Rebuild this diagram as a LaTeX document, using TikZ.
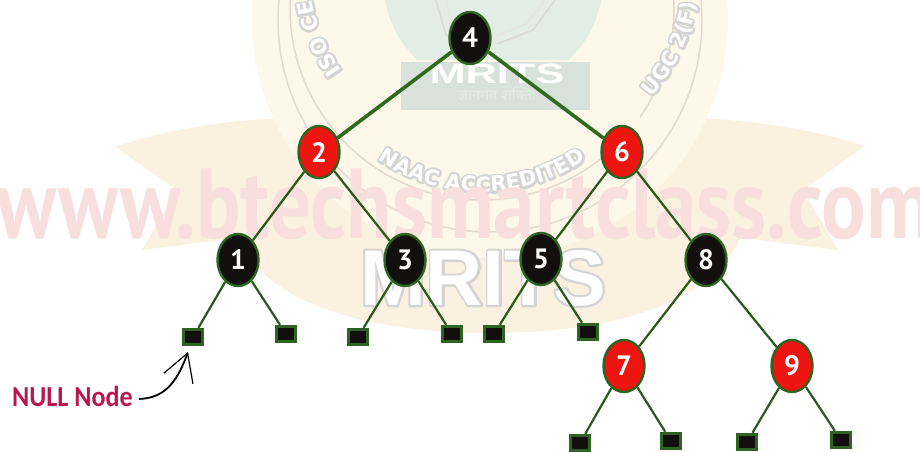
\documentclass[tikz,border=0pt]{standalone}
\usepackage{fontspec}
\usepackage{graphicx}
\setmainfont{PT Sans}
\newfontfamily\markfont{Liberation Sans}
\newfontfamily\stampfont{DejaVu Sans}
\newfontfamily\notefont{Carlito}
\newfontfamily\mottofont[Script=Devanagari]{Noto Sans}
\usetikzlibrary{positioning,arrows.meta,shapes.geometric,decorations.text}
\definecolor{treegreen}{HTML}{2F6A1E}
\definecolor{noderim}{HTML}{2E6422}
\definecolor{nodered}{HTML}{EE1410}
\definecolor{nodeblack}{HTML}{120F0E}
\definecolor{notered}{HTML}{B9184F}
\definecolor{ribbon}{HTML}{FBF1E1}
\definecolor{sealfill}{HTML}{FDF8E9}
\definecolor{sealgreen}{HTML}{E2EDE4}
\definecolor{urlpink}{HTML}{F8DEDC}
\newcommand{\rimon}{\special{pdf:code 0.83 G 4.4 w 1 j 1 Tr}}
\newcommand{\rimoff}{\special{pdf:code 0 Tr}}

\begin{document}
\begin{tikzpicture}[x=1pt,y=1pt,
  rb/.style={draw=noderim,line width=2.4pt,ellipse,fill=nodered,minimum width=41pt,minimum height=52pt,inner sep=0pt,text=white,font=\fontsize{28}{28}\selectfont\bfseries},
  bk/.style={rb,fill=nodeblack},
  nil/.style={draw=noderim,line width=3pt,fill=nodeblack,minimum width=19pt,minimum height=15.5pt,inner sep=0pt},
  big/.style={treegreen,line width=3.6pt},
  thin/.style={treegreen!85!black,line width=2.2pt},
  seal/.style 2 args={decoration={text along path,text align=center,text={|\stampfont\bfseries\fontsize{21}{21}\selectfont\color{white}#2|#1}},decorate}]
\useasboundingbox (0,-451) rectangle (920,0);
% faint stamp behind the tree
\begin{scope}
\clip (0,-451) rectangle (920,0);
\fill[ribbon] (115,-147) .. controls (170,-128) and (240,-118) .. (300,-118) -- (420,-118) -- (420,-215) -- (142,-250) -- (177,-190) -- cycle;
\fill[ribbon] (865,-146) .. controls (810,-128) and (740,-118) .. (680,-118) -- (560,-118) -- (560,-215) -- (838,-250) -- (803,-190) -- cycle;
\fill[ribbon] (232,-215) .. controls (245,-300) and (360,-333) .. (490,-333) .. controls (620,-333) and (730,-300) .. (748,-215) -- cycle;
\fill[sealfill] (490,-20) circle (238);
\draw[ribbon!80!gray,line width=1.5pt] (490,-20) circle (212);
\draw[ribbon!80!gray,line width=1.5pt] (482,-8) circle (192);
\fill[sealgreen] (493,20) circle (110);
\fill[sealfill] (340,-60) rectangle (640,-130);
\fill[sealgreen!90!gray] (401,-62) rectangle (590,-110);
\draw[gray!30,line width=1.5pt] (436,0) -- (446,-35) -- (472,-44) (497,-44) -- (533,-30) -- (555,0);
\draw[gray!20,line width=1.5pt] (446,0) -- (452,-26) -- (472,-34) (497,-36) -- (526,-24) -- (545,0);
\node[text=white,font=\markfont\bfseries\fontsize{28}{28}\selectfont] (mritstop) at (497,-74) {\scalebox{1.55}[1]{MRITS}};
\node[text=sealgreen,font=\mottofont\fontsize{15}{15}\selectfont] (motto) at (497,-94) {ज्ञानमेव शक्तिः};
\foreach \rim in {\rimon,\rimoff} {
  \path[seal={NAAC ACCREDITED}{\rim}] (365,-150) arc[start angle=230.5,end angle=309.5,radius=184];
  \path[seal={ISO CE}{\rim}] (344,-74) .. controls (328,-52) and (315,-25) .. (311,4);
  \path[seal={UGC 2(F)}{\rim}] (648,-101) .. controls (672,-75) and (692,-40) .. (697,2);
}
\node[font=\tiny] (rimreset) at (0,0) {\rimoff};
\node[text=urlpink,font=\bfseries\fontsize{83}{83}\selectfont,anchor=base] (url) at (465,-238) {\scalebox{1}[1.2]{www.btechsmartclass.com}};
\node[text=white,font=\markfont\bfseries\fontsize{79}{79}\selectfont] (mrits) at (483,-278) {\rimon MRITS\rimoff\llap{MRITS}};
\end{scope}
% tree
\node[bk] (n4) at (470,-38) {4};
\node[rb] (n2) at (319,-152) {2};
\node[rb] (n6) at (622,-152) {6};
\node[bk] (n1) at (238,-260) {1};
\node[bk] (n3) at (405,-260) {3};
\node[bk] (n5) at (541,-259) {5};
\node[bk] (n8) at (706,-260) {8};
\node[rb] (n7) at (624,-366) {7};
\node[rb] (n9) at (792,-366) {9};
% null leaves
\node[nil] (a1) at (193,-337) {};
\node[nil] (a2) at (286,-334) {};
\node[nil] (b1) at (358,-337) {};
\node[nil] (b2) at (452,-334) {};
\node[nil] (c1) at (494,-334) {};
\node[nil] (c2) at (588,-332) {};
\node[nil] (d1) at (580,-443) {};
\node[nil] (d2) at (671,-441) {};
\node[nil] (e1) at (747,-442) {};
\node[nil] (e2) at (841,-440) {};
\draw[big] (n4)--(n2);
\draw[big] (n4)--(n6);
\draw[thin] (n2)--(n1);
\draw[thin] (n2)--(n3);
\draw[thin] (n6)--(n5);
\draw[thin] (n6)--(n8);
\draw[thin] (n8)--(n7);
\draw[thin] (n8)--(n9);
\draw[thin] (n1)--(a1);
\draw[thin] (n1)--(a2);
\draw[thin] (n3)--(b1);
\draw[thin] (n3)--(b2);
\draw[thin] (n5)--(c1);
\draw[thin] (n5)--(c2);
\draw[thin] (n7)--(d1);
\draw[thin] (n7)--(d2);
\draw[thin] (n9)--(e1);
\draw[thin] (n9)--(e2);
% label
\node[text=notered,font=\notefont\bfseries\fontsize{29}{29}\selectfont,anchor=west,inner sep=0pt] (note) at (12,-396) {\scalebox{.9}[1]{NULL Node}};
\coordinate (tip) at (188,-352);
\draw[-{Straight Barb[length=27pt,width=31pt,line width=1.2pt]},line width=1.8pt] (note.east)++(6,-3) .. controls (163,-398) and (176,-385) .. (tip);
\end{tikzpicture}
\end{document}
